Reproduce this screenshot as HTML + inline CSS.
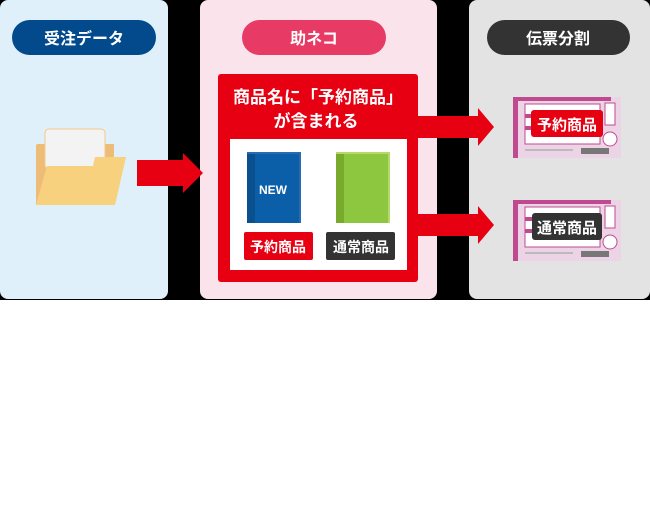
<!DOCTYPE html>
<html><head><meta charset="utf-8"><style>
body{margin:0;width:650px;height:510px;background:#fff;overflow:hidden}
svg{display:block}
text{font-family:"Liberation Sans","Noto Sans CJK JP",sans-serif;font-weight:bold}
</style></head><body>
<svg width="650" height="510" viewBox="0 0 650 510">
<rect x="0" y="0" width="650" height="300" fill="#000"/>
<rect x="0" y="0" width="168" height="299" rx="8" fill="#dff0fa"/>
<rect x="200" y="0" width="237" height="299" rx="8" fill="#fbe3ec"/>
<rect x="469" y="0" width="181" height="299" rx="8" fill="#e3e3e3"/>
<rect x="12" y="20" width="144" height="35" rx="17.5" fill="#034a8c"/>
<text x="84" y="44" fill="#fff" font-size="16" text-anchor="middle">受注データ</text>
<rect x="242" y="20" width="144" height="35" rx="17.5" fill="#e73a64"/>
<text x="314" y="44" fill="#fff" font-size="16" text-anchor="middle">助ネコ</text>
<rect x="487" y="20" width="143" height="35" rx="17.5" fill="#333"/>
<text x="558" y="44" fill="#fff" font-size="16" text-anchor="middle">伝票分割</text>
<!-- folder -->
<path d="M36 146 q0 -2 2 -2 h76 v61 h-78 z" fill="#edbd78"/>
<rect x="45" y="129" width="60" height="40" rx="4" fill="#f3f3f3" stroke="#f3c98a" stroke-width="1"/>
<path d="M36 205 l11 -39 h46 l2 -9 h31 l-11 48 z" fill="#f7d17e"/>
<!-- middle arrow -->
<path d="M137 160 h46 v-7 l20 20 l-20 20 v-7 h-46 z" fill="#e60012"/>
<!-- red box -->
<rect x="218" y="74" width="200" height="208" rx="3" fill="#e60012"/>
<text x="318" y="103" fill="#fff" font-size="17" text-anchor="middle">商品名に「予約商品」</text>
<text x="316" y="127" fill="#fff" font-size="17" text-anchor="middle">が含まれる</text>
<rect x="230" y="139" width="177" height="131" fill="#fff"/>
<!-- blue book -->
<rect x="247" y="152" width="54" height="71" fill="#2a6ab3"/>
<rect x="247" y="154" width="52" height="69" fill="#0b5ea8"/>
<rect x="247" y="154" width="8" height="69" fill="#0a4f8e"/>
<text x="273" y="194" fill="#fff" font-size="12" text-anchor="middle">NEW</text>
<!-- green book -->
<rect x="336" y="152" width="54" height="71" fill="#b8d86a"/>
<rect x="336" y="154" width="52" height="69" fill="#8dc63f"/>
<rect x="336" y="154" width="8" height="69" fill="#78ab2d"/>
<rect x="244" y="232" width="69" height="28" rx="2" fill="#e60012"/>
<text x="278" y="252" fill="#fff" font-size="14" text-anchor="middle">予約商品</text>
<rect x="326" y="232" width="69" height="28" rx="2" fill="#333"/>
<text x="361" y="252" fill="#fff" font-size="14" text-anchor="middle">通常商品</text>
<!-- right arrows -->
<path d="M418 116 h60 v-8 l16 19 l-16 19 v-8 h-60 z" fill="#e60012"/>
<path d="M418 214 h60 v-8 l16 19 l-16 19 v-8 h-60 z" fill="#e60012"/>
<!-- tickets -->
<g id="t1">
<rect x="513" y="97" width="108" height="61" fill="#ecd3e6"/>
<rect x="513" y="97" width="5" height="61" fill="#c04a8f"/>
<rect x="518" y="97" width="93" height="4" fill="#c04a8f"/>
<rect x="525" y="104" width="75" height="40" fill="#fff" stroke="#c04a8f" stroke-width="1"/>
<rect x="525" y="114" width="75" height="4" fill="#c04a8f"/>
<rect x="525" y="126" width="75" height="4" fill="#c04a8f"/>
<rect x="605" y="103" width="10" height="22" fill="#fff" stroke="#c04a8f"/>
<circle cx="610" cy="139" r="7" fill="#fff" stroke="#c04a8f"/>
<rect x="525" y="149" width="48" height="2" fill="#bbb"/>
<rect x="581" y="148" width="28" height="6" fill="#777"/>
</g>
<use href="#t1" y="103"/>
<rect x="531" y="110" width="72" height="27" rx="3" fill="#e60012"/>
<text x="567" y="130" fill="#fff" font-size="15" text-anchor="middle">予約商品</text>
<rect x="532" y="213" width="70" height="27" rx="3" fill="#333"/>
<text x="567" y="233" fill="#fff" font-size="15" text-anchor="middle">通常商品</text>
</svg>
</body></html>
